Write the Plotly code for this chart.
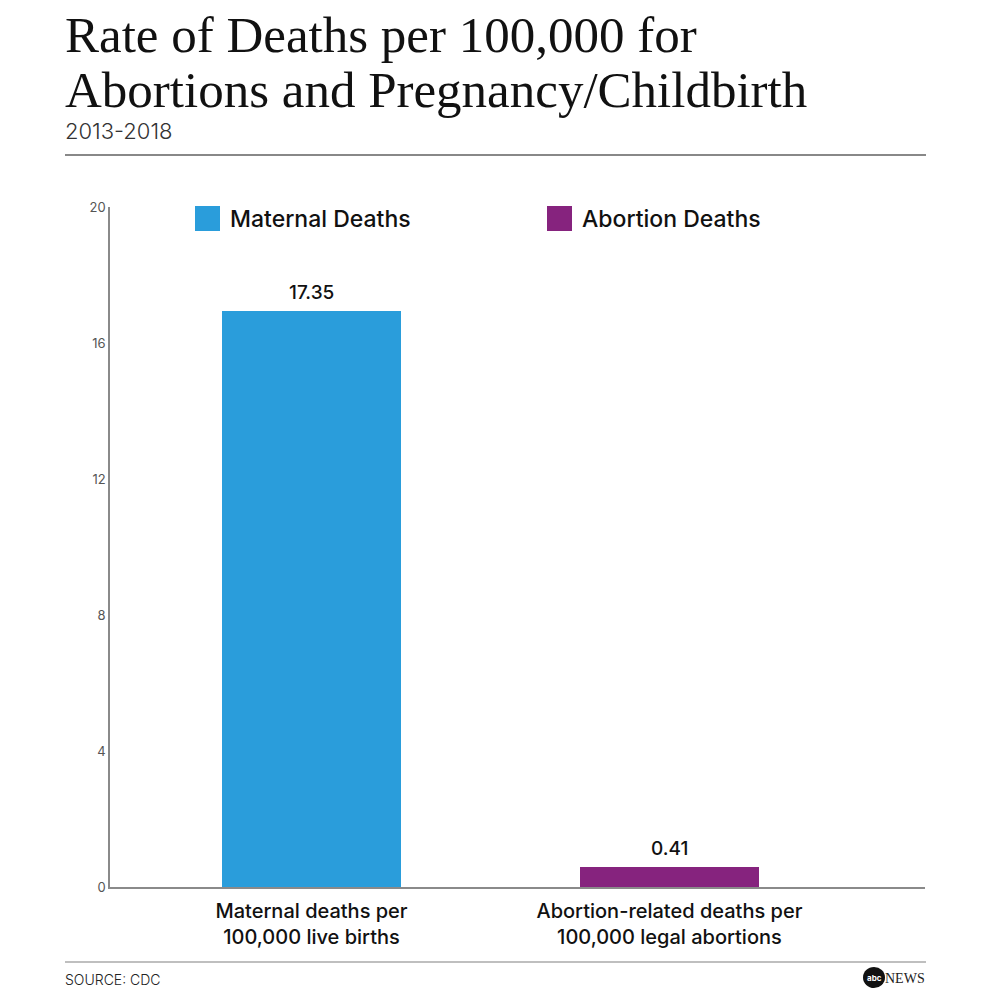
import plotly.graph_objects as go

# ---- data ----
categories = ["Maternal deaths per<br>100,000 live births",
              "Abortion-related deaths per<br>100,000 legal abortions"]
series_names = ["Maternal Deaths", "Abortion Deaths"]
bar_heights = [16.95, 0.6]          # heights as drawn in the picture
value_labels = ["17.35", "0.41"]    # labels printed above bars
y_ticks = [0, 4, 8, 12, 16, 20]
colors = ["#2A9DDB", "#86237E"]

SANS = "Inter, 'Liberation Sans', Arial, sans-serif"
SERIF = "'Liberation Serif', 'DejaVu Serif', serif"

x_pos = list(range(len(categories)))

W = 992
H = 992
ml = 110
mt = 207
mr = W - 925
mb = H - 887

fig = go.Figure()
fig.add_trace(go.Bar(
    x=x_pos, y=bar_heights, width=0.5,
    marker=dict(color=colors, line=dict(width=0)),
    showlegend=False, hoverinfo="skip",
))

# value labels
for xi, v, t in zip(x_pos, bar_heights, value_labels):
    fig.add_annotation(x=xi, y=v, xref="x", yref="y", text=t, showarrow=False,
                       yanchor="bottom", yshift=5,
                       font=dict(family=SANS, size=19, color="#111", weight=500))

fig.update_layout(
    width=W, height=H,
    margin=dict(l=ml, r=mr, t=mt, b=mb),
    paper_bgcolor="white", plot_bgcolor="white",
    xaxis=dict(range=[-0.563, 1.714], tickvals=x_pos, ticktext=categories,
               showline=True, linecolor="#8a8a8a", linewidth=1.5,
               showgrid=False, zeroline=False, ticks="outside", ticklen=5,
               tickcolor="rgba(0,0,0,0)",
               tickfont=dict(family=SANS, size=20, color="#111", weight=500)),
    yaxis=dict(range=[0, 20], tickvals=y_ticks, showline=True,
               linecolor="#8a8a8a", linewidth=1.5, showgrid=False,
               zeroline=False, ticks="",
               tickfont=dict(family=SANS, size=13, color="#555")),
    bargap=0,
)

def px_x(px):
    return (px - ml) / (W - ml - mr)

def px_y(py):
    return (H - mb - py) / (H - mt - mb)

# title
fig.add_annotation(xref="paper", yref="paper", x=px_x(63), y=px_y(65),
                   xanchor="left", yanchor="bottom", showarrow=False,
                   text="Rate of Deaths per 100,000 for",
                   font=dict(family=SERIF, size=51, color="#111"))
fig.add_annotation(xref="paper", yref="paper", x=px_x(63), y=px_y(120),
                   xanchor="left", yanchor="bottom", showarrow=False,
                   text="Abortions and Pregnancy/Childbirth",
                   font=dict(family=SERIF, size=51, color="#111"))
fig.add_annotation(xref="paper", yref="paper", x=px_x(63), y=px_y(131),
                   xanchor="left", yanchor="middle", showarrow=False,
                   text="2013-2018",
                   font=dict(family=SANS, size=22, color="#333", weight=300))

# rules
fig.add_shape(type="line", xref="paper", yref="paper",
              x0=px_x(65), x1=px_x(926), y0=px_y(155), y1=px_y(155),
              line=dict(color="#888", width=2))
fig.add_shape(type="line", xref="paper", yref="paper",
              x0=px_x(65), x1=px_x(926), y0=px_y(962), y1=px_y(962),
              line=dict(color="#aaa", width=1.5))

# legend
leg_x = [195, 547]
for lx, name, c in zip(leg_x, series_names, colors):
    fig.add_shape(type="rect", xref="paper", yref="paper",
                  x0=px_x(lx), x1=px_x(lx + 25), y0=px_y(231), y1=px_y(206),
                  fillcolor=c, line=dict(width=0))
    fig.add_annotation(xref="paper", yref="paper", x=px_x(lx + 33), y=px_y(219),
                       xanchor="left", yanchor="middle", showarrow=False,
                       text=name,
                       font=dict(family=SANS, size=23, color="#111", weight=500))

# source
fig.add_annotation(xref="paper", yref="paper", x=px_x(63), y=px_y(979),
                   xanchor="left", yanchor="middle", showarrow=False,
                   text="SOURCE: CDC",
                   font=dict(family=SANS, size=14, color="#222", weight=300))

# abc NEWS logo
fig.add_shape(type="circle", xref="paper", yref="paper",
              x0=px_x(863), x1=px_x(885), y0=px_y(988), y1=px_y(967),
              fillcolor="#111", line=dict(width=0))
fig.add_annotation(xref="paper", yref="paper", x=px_x(874), y=px_y(977.5),
                   xanchor="center", yanchor="middle", showarrow=False,
                   text="<b>abc</b>",
                   font=dict(family=SANS, size=8, color="white"))
fig.add_annotation(xref="paper", yref="paper", x=px_x(927), y=px_y(978),
                   xanchor="right", yanchor="middle", showarrow=False,
                   text="NEWS",
                   font=dict(family=SERIF, size=14, color="#222"))

fig.write_html("out.html", config={"displayModeBar": False},
               post_script="document.body.style.margin='0px';")
